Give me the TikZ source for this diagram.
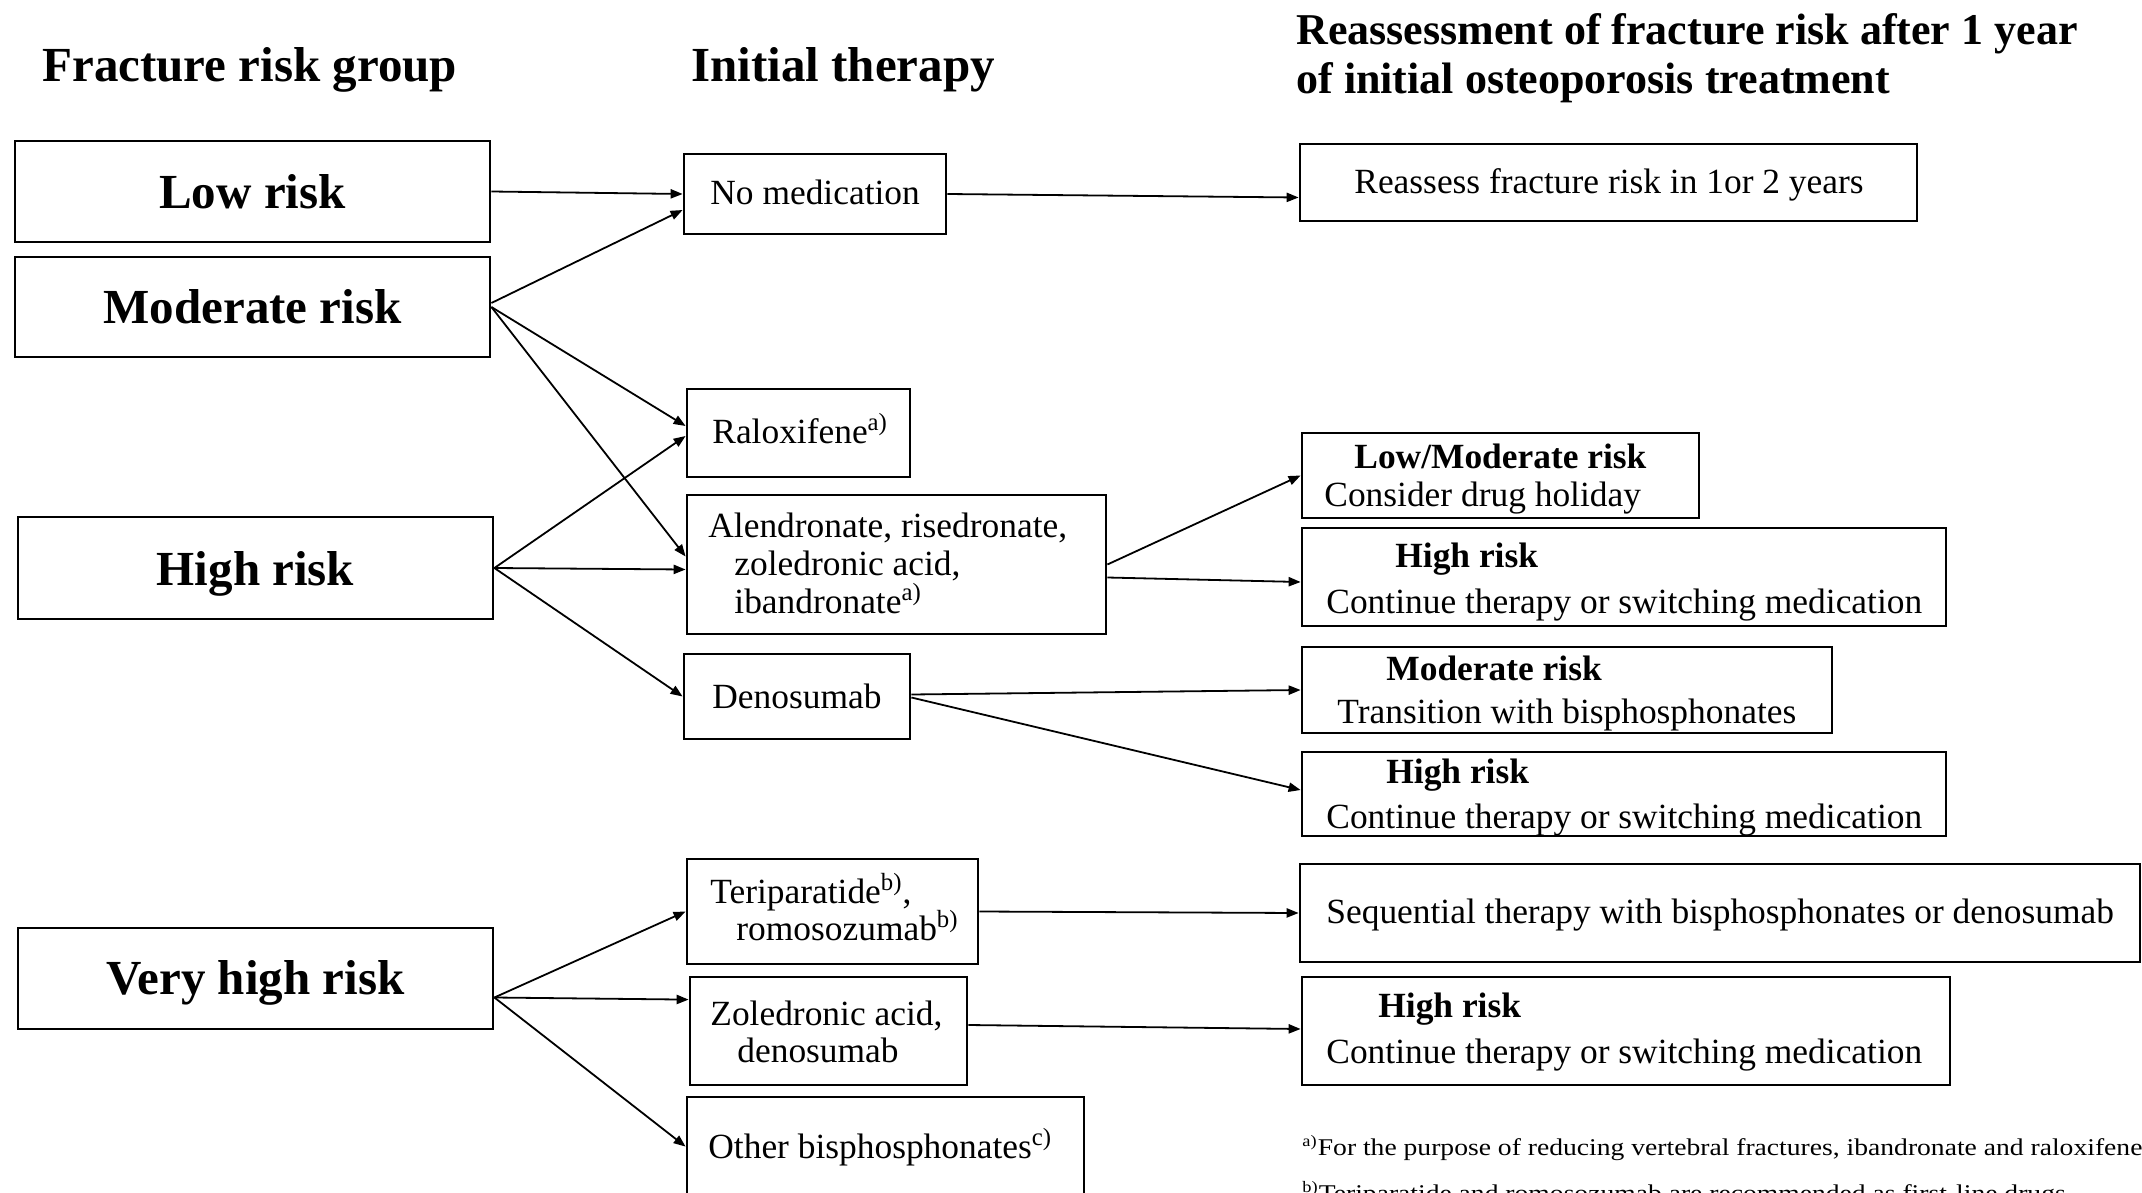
\documentclass[tikz,border=0pt]{standalone}
\usepackage{fontspec}
\setmainfont{Liberation Serif}
\usetikzlibrary{fit,calc,arrows.meta}

% type sizes used in the chart
\newcommand\grpfont{\fontsize{24.5pt}{29pt}\selectfont\bfseries}
\newcommand\hdrfont{\fontsize{22pt}{25pt}\selectfont\bfseries}
\newcommand\medfont{\fontsize{17.7pt}{21pt}\selectfont}
\newcommand\notefont{\fontsize{12pt}{14pt}\selectfont}

\begin{document}
\begin{tikzpicture}[x=0.5pt, y=-0.5pt,
  box/.style={draw, line width=1.4pt, inner sep=0pt, rectangle},
  link/.style={line width=0.9pt, -{Triangle[length=6pt, width=4.6pt]}},
  grp/.style={anchor=base, inner sep=0pt, font=\grpfont},
  head/.style={anchor=base west, inner sep=0pt, font=\grpfont},
  txt/.style={anchor=base west, inner sep=0pt, font=\medfont},
  btxt/.style={anchor=base west, inner sep=0pt, font=\medfont\bfseries},
  note/.style={anchor=base west, inner sep=0pt, font=\notefont}]

\useasboundingbox (0,0) rectangle (2142,1193);
\clip (0,0) rectangle (2142,1193);

% column headings
\node[head] (h1) at (42,82) {Fracture risk group};
\node[head] (h2) at (691,82) {Initial therapy};
\node[head, font=\hdrfont] (h3a) at (1296,45) {Reassessment of fracture risk after 1 year};
\node[head, font=\hdrfont] (h3b) at (1296,94) {of initial osteoporosis treatment};

% fracture risk groups
\node[box, fit={(15,141) (490,242)}] (low) {};
\node[grp] (lowT) at (low.center |- 0,208) {Low risk};
\node[box, fit={(15,257) (490,357)}] (mod) {};
\node[grp] (modT) at (mod.center |- 0,323) {Moderate risk};
\node[box, fit={(18,517) (493,619)}] (high) {};
\node[grp] (highT) at (high.center |- 0,585) {High risk};
\node[box, fit={(18,928) (493,1029)}] (vhigh) {};
\node[grp] (vhighT) at (vhigh.center |- 0,994) {Very high risk};

% initial therapy
\node[box, fit={(684,154) (946,234)}] (nomed) {};
\node[txt] (nomedT) at (710,205) {No medication};
\node[box, fit={(687,389) (910,477)}] (ralox) {};
\node[txt] (raloxT) at (712,443) {Raloxifene\textsuperscript{a)}};
\node[box, fit={(687,495) (1106,634)}] (alen) {};
\node[txt] (alenT1) at (708,537) {Alendronate, risedronate,};
\node[txt] (alenT2) at (734,575) {zoledronic acid,};
\node[txt] (alenT3) at (734,613) {ibandronate\textsuperscript{a)}};
\node[box, fit={(684,654) (910,739)}] (deno) {};
\node[txt] (denoT) at (712,708) {Denosumab};
\node[box, fit={(687,859) (978,964)}] (teri) {};
\node[txt] (teriT1) at (710,903) {Teriparatide\textsuperscript{b)},};
\node[txt] (teriT2) at (736,940) {romosozumab\textsuperscript{b)}};
\node[box, fit={(690,977) (967,1085)}] (zol) {};
\node[txt] (zolT1) at (710,1025) {Zoledronic acid,};
\node[txt] (zolT2) at (737,1062) {denosumab};
\node[box, fit={(687,1097) (1084,1230)}] (other) {};
\node[txt] (otherT) at (708,1158) {Other bisphosphonates\textsuperscript{c)}};

% reassessment after one year
\node[box, fit={(1300,144) (1917,221)}] (reass) {};
\node[txt] (reassT) at (1354,193) {Reassess fracture risk in 1or 2 years};
\node[box, fit={(1302,433) (1699,518)}] (lowmod) {};
\node[btxt] (lowmodT1) at (1354,468) {Low/Moderate risk};
\node[txt] (lowmodT2) at (1324,506) {Consider drug holiday};
\node[box, fit={(1302,528) (1946,626)}] (hiA) {};
\node[btxt] (hiAT1) at (1395,567) {High risk};
\node[txt] (hiAT2) at (1326,613) {Continue therapy or switching medication};
\node[box, fit={(1302,647) (1832,733)}] (modr) {};
\node[btxt] (modrT1) at (1386,680) {Moderate risk};
\node[txt] (modrT2) at (1337,723) {Transition with bisphosphonates};
\node[box, fit={(1302,752) (1946,836)}] (hiB) {};
\node[btxt] (hiBT1) at (1386,783) {High risk};
\node[txt] (hiBT2) at (1326,828) {Continue therapy or switching medication};
\node[box, fit={(1300,864) (2140,962)}] (seq) {};
\node[txt] (seqT) at (1326,923) {Sequential therapy with bisphosphonates or denosumab};
\node[box, fit={(1302,977) (1950,1085)}] (hiC) {};
\node[btxt] (hiCT1) at (1378,1017) {High risk};
\node[txt] (hiCT2) at (1326,1063) {Continue therapy or switching medication};

% footnotes
\node[note] (fnA) at (1302,1155) {\scalebox{1.15}[1]{\textsuperscript{a)}For the purpose of reducing vertebral fractures, ibandronate and raloxifene}};
\node[note] (fnB) at (1302,1201) {\scalebox{1.15}[1]{\textsuperscript{b)}Teriparatide and romosozumab are recommended as first-line drugs.}};

% risk group -> initial therapy
\draw[link] (low.east) -- (nomed.west);
\draw[link] ($(mod.east)+(0,-4)$) -- ($(nomed.west)+(0,16)$);
\draw[link] (mod.east) -- ($(ralox.west)+(0,-7)$);
\draw[link] (mod.east) -- ($(alen.west)+(0,-8)$);
\draw[link] (high.east) -- ($(ralox.west)+(0,3)$);
\draw[link] (high.east) -- ($(alen.west)+(0,5)$);
\draw[link] (high.east) -- (deno.west);
\draw[link] ($(vhigh.east)+(0,19)$) -- (teri.west);
\draw[link] ($(vhigh.east)+(0,19)$) -- ($(zol.north west)+(0,24)$);
\draw[link] ($(vhigh.east)+(0,19)$) -- ($(other.north west)+(0,51)$);

% initial therapy -> reassessment
\draw[link] (nomed.east) -- ($(reass.west)+(0,15)$);
\draw[link] (alen.east) -- (lowmod.west);
\draw[link] ($(alen.east)+(0,13)$) -- ($(hiA.west)+(0,5)$);
\draw[link] ($(deno.east)+(0,-2)$) -- (modr.west);
\draw[link] ($(deno.east)+(0,1)$) -- ($(hiB.west)+(0,-4)$);
\draw[link] (teri.east) -- (seq.west);
\draw[link] ($(zol.east)+(0,-6)$) -- ($(hiC.west)+(0,-2)$);
\end{tikzpicture}
\end{document}
